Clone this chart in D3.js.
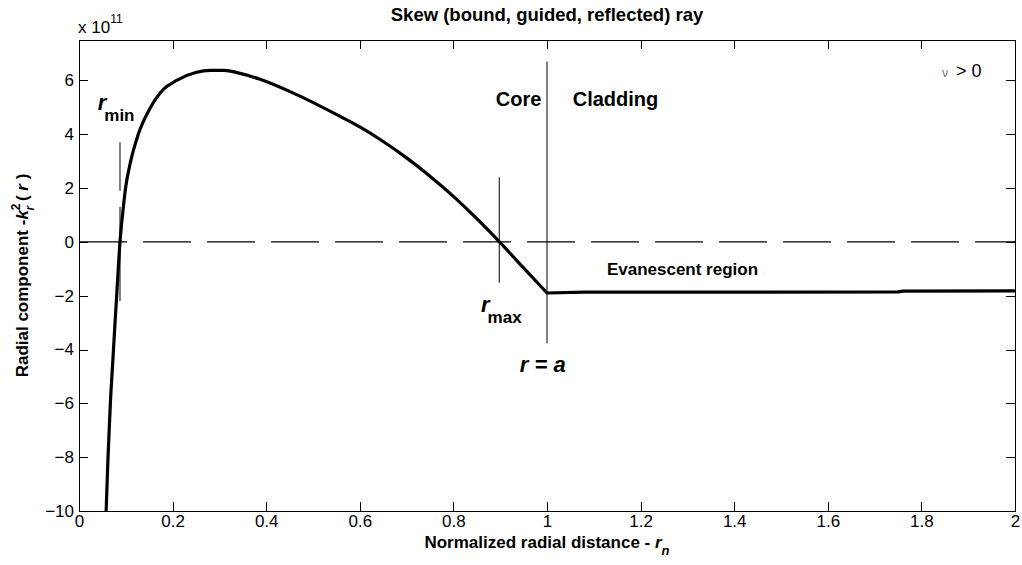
<!DOCTYPE html>
<html>
<head>
<meta charset="utf-8">
<script src="https://cdn.jsdelivr.net/npm/d3@7"></script>
<style>
body { margin: 0; background: #fff; }
text { font-family: Arial, "Liberation Sans", Helvetica, sans-serif; fill: #000; }
.axis path, .axis line { stroke: #000; shape-rendering: crispEdges; }
.axis text { font-size: 17px; }
</style>
</head>
<body>
<div id="chart"></div>
<script>
// core part: normalized radial distance r_n and -k_r^2(r) in units of 1e11
const rnCore  = [0.058, 0.062, 0.067, 0.072, 0.077, 0.0805, 0.0876, 0.093, 0.0995, 0.1105, 0.1267, 0.153, 0.180, 0.2088, 0.251, 0.28, 0.31, 0.34, 0.387, 0.465, 0.558, 0.60, 0.65, 0.70, 0.75, 0.80, 0.85, 0.90, 0.95, 1.00];
const krCore  = [-10, -8, -6, -4.5, -3, -2, 0, 1, 2, 3, 4, 5, 5.66, 6.0, 6.3, 6.37, 6.37, 6.28, 6.04, 5.47, 4.66, 4.27, 3.73, 3.12, 2.44, 1.69, 0.86, -0.03, -0.97, -1.9];
// cladding part
const rnClad  = [1.00, 1.08, 1.40, 1.75, 1.76, 2.00];
const krClad  = [-1.9, -1.87, -1.87, -1.86, -1.83, -1.82];

const xTicks = [0, 0.2, 0.4, 0.6, 0.8, 1, 1.2, 1.4, 1.6, 1.8, 2];
const yTicks = [-10, -8, -6, -4, -2, 0, 2, 4, 6];

// marker segments (r_min, r_min, r_max, r = a)
const markX   = [0.0876, 0.0876, 0.898, 1.0];
const markTop = [3.7, 1.3, 2.4, 6.7];
const markBot = [1.9, -2.2, -1.52, -3.77];

const width = 1022, height = 565;
const margin = {left: 79, right: 7, top: 40, bottom: 54};

const svg = d3.select("#chart").append("svg")
    .attr("width", width)
    .attr("height", height);

const x = d3.scaleLinear().domain([0, 2]).range([margin.left, width - margin.right]);
const y = d3.scaleLinear().domain([-10, 7.5]).range([height - margin.bottom, margin.top]);

// axes, ticks inward like matlab
svg.append("g").attr("class", "axis")
    .attr("transform", "translate(0," + y(-10) + ")")
    .call(d3.axisBottom(x).tickValues(xTicks).tickFormat(d3.format("~g"))
        .tickSizeInner(-9).tickSizeOuter(0).tickPadding(4));
svg.append("g").attr("class", "axis")
    .attr("transform", "translate(0," + y(7.5) + ")")
    .call(d3.axisTop(x).tickValues(xTicks).tickFormat("")
        .tickSizeInner(-9).tickSizeOuter(0));
svg.append("g").attr("class", "axis")
    .attr("transform", "translate(" + x(0) + ",0)")
    .call(d3.axisLeft(y).tickValues(yTicks).tickFormat(d3.format("~g"))
        .tickSizeInner(-9).tickSizeOuter(0).tickPadding(5));
svg.append("g").attr("class", "axis")
    .attr("transform", "translate(" + x(2) + ",0)")
    .call(d3.axisRight(y).tickValues(yTicks).tickFormat("")
        .tickSizeInner(-9).tickSizeOuter(0));
svg.selectAll(".axis text").attr("fill", "#000").style("font-family", "Arial, 'Liberation Sans', sans-serif");

// zero line, dashed
svg.append("line")
    .attr("x1", x(0)).attr("x2", x(2))
    .attr("y1", y(0)).attr("y2", y(0))
    .attr("stroke", "#000")
    .attr("stroke-width", 1.2)
    .attr("stroke-dasharray", "48,16");

// marker lines
svg.selectAll(".mark")
    .data(markX)
    .enter().append("line")
    .attr("class", "mark")
    .attr("x1", d => x(d)).attr("x2", d => x(d))
    .attr("y1", (d, i) => y(markTop[i]))
    .attr("y2", (d, i) => y(markBot[i]))
    .attr("stroke", "#000")
    .attr("stroke-width", 1);

// the curve, core part smooth, cladding part straight
const smooth = d3.line().x(d => x(d[0])).y(d => y(d[1])).curve(d3.curveMonotoneX);
const straight = d3.line().x(d => x(d[0])).y(d => y(d[1]));
const corePts = rnCore.map((r, i) => [r, krCore[i]]);
const cladPts = rnClad.map((r, i) => [r, krClad[i]]);
svg.append("path")
    .attr("d", smooth(corePts) + straight(cladPts).replace("M", "L"))
    .attr("fill", "none")
    .attr("stroke", "#000")
    .attr("stroke-width", 3.2)
    .attr("stroke-linejoin", "miter");

// title
svg.append("text")
    .attr("x", x(1)).attr("y", 21)
    .attr("text-anchor", "middle")
    .style("font-size", "18.5px").style("font-weight", "bold")
    .text("Skew (bound, guided, reflected) ray");

// exponent
let ex = svg.append("text").attr("x", 78).attr("y", 33).style("font-size", "17px");
ex.append("tspan").text("x 10");
ex.append("tspan").attr("dy", -10).style("font-size", "12px").text("11");

// x label
let xl = svg.append("text")
    .attr("x", x(1)).attr("y", 548)
    .attr("text-anchor", "middle")
    .style("font-size", "17px").style("font-weight", "bold");
xl.append("tspan").text("Normalized radial distance - ");
xl.append("tspan").style("font-style", "italic").text("r");
xl.append("tspan").attr("dy", 7).style("font-size", "13px").style("font-style", "italic").text("n");

// y label
let yl = svg.append("text")
    .attr("transform", "translate(28," + y(-1.25) + ") rotate(-90)")
    .attr("text-anchor", "middle")
    .style("font-size", "17px").style("font-weight", "bold");
yl.append("tspan").text("Radial component -");
yl.append("tspan").style("font-style", "italic").text("k");
yl.append("tspan").attr("dy", -8).style("font-size", "12px").text("2");
yl.append("tspan").attr("dx", -7).attr("dy", 14).style("font-size", "12px").style("font-style", "italic").text("r");
yl.append("tspan").attr("dy", -6).text(" ( ");
yl.append("tspan").style("font-style", "italic").text("r");
yl.append("tspan").text(" )");

// annotations
function sub(rx, vy, main, small) {
    let t = svg.append("text").attr("x", x(rx)).attr("y", y(vy))
        .style("font-weight", "bold");
    t.append("tspan").style("font-style", "italic").style("font-size", "22px").text(main);
    t.append("tspan").attr("dx", -2).attr("dy", 11).style("font-size", "17px").text(small);
}
sub(0.04, 4.9, "r", "min");
sub(0.859, -2.59, "r", "max");

svg.append("text").attr("x", x(0.942)).attr("y", y(-4.82))
    .style("font-size", "22px").style("font-weight", "bold").style("font-style", "italic")
    .text("r = a");

svg.append("text").attr("x", x(0.988)).attr("y", y(5.03))
    .attr("text-anchor", "end")
    .style("font-size", "20px").style("font-weight", "bold").text("Core");
svg.append("text").attr("x", x(1.055)).attr("y", y(5.03))
    .style("font-size", "20px").style("font-weight", "bold").text("Cladding");
svg.append("text").attr("x", x(1.128)).attr("y", y(-1.23))
    .style("font-size", "17px").style("font-weight", "bold").text("Evanescent region");

let nu = svg.append("text").attr("x", x(1.844)).attr("y", y(6.13));
nu.append("tspan").style("font-size", "12px").attr("fill", "#777").text("ν");
nu.append("tspan").attr("dx", 8).style("font-size", "18px").text("> 0");
</script>
</body>
</html>
